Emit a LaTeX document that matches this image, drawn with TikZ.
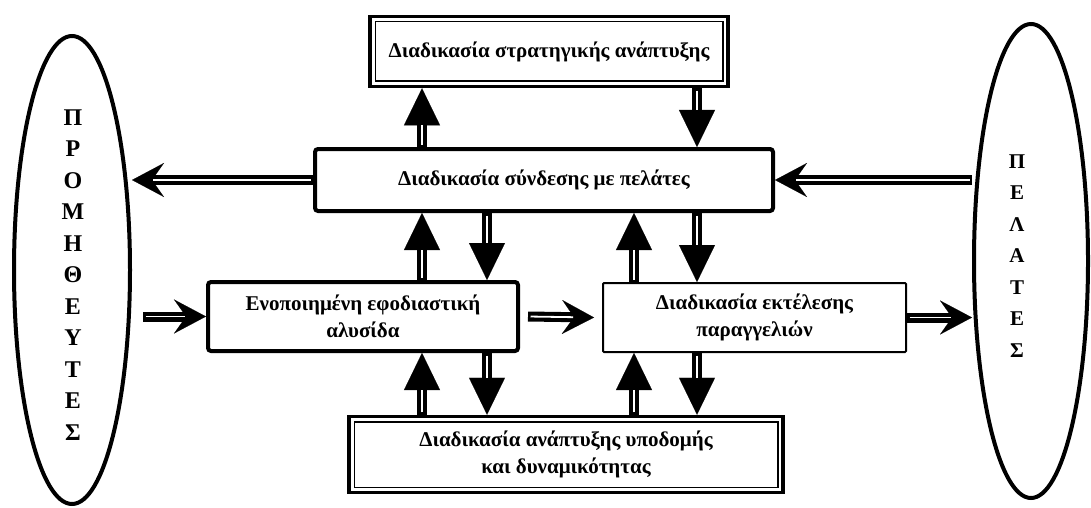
\documentclass[tikz,border=0pt]{standalone}
\usepackage{fontspec}
\setmainfont{Liberation Serif}
\usetikzlibrary{arrows.meta,shapes.geometric,calc}

\tikzset{
  box/.style={draw, line width=4pt, rounded corners=3pt, align=center, inner sep=0pt,
    font=\bfseries\fontsize{21}{27}\selectfont},
  thinbox/.style={box, line width=2pt, rounded corners=1pt},
  framebox/.style={box, line width=3.5pt, rounded corners=0pt},
  inframe/.style={line width=1.5pt},
  oval/.style={draw, ellipse, line width=4pt, inner sep=0pt},
  letters/.style={align=center, inner sep=0pt, font=\bfseries\fontsize{#1}{31.5}\selectfont},
  vshaft/.style={line width=10pt, -{Triangle[length=37pt,width=36pt,line width=0.1pt]}},
  vgap/.style={white, line width=1.8pt, shorten <=2.5pt, shorten >=37pt},
  hshaft/.style={line width=10pt, -{Stealth[length=32pt,width=34pt,inset=12pt,line width=0.1pt]}},
  hgap/.style={white, line width=1.8pt, shorten <=2.5pt, shorten >=21pt},
}

% double-line connector with a solid triangular head (vertical flows)
\newcommand\vduct[2]{\draw[vshaft] (#1) -- (#2); \draw[vgap] (#1) -- (#2);}
% double-line connector with a swept-back head (horizontal flows)
\newcommand\hduct[2]{\draw[hshaft] (#1) -- (#2); \draw[hgap] (#1) -- (#2);}

\begin{document}
\begin{tikzpicture}[x=1pt, y=-1pt]
  \useasboundingbox (0,0) rectangle (1091,508);

  % suppliers and customers
  \node[oval, minimum width=116pt, minimum height=468pt] (sup) at (72,270) {};
  \node[letters=24] (supt) at (73,275) {Π\\Ρ\\Ο\\Μ\\Η\\Θ\\Ε\\Υ\\Τ\\Ε\\Σ};
  \node[oval, minimum width=114pt, minimum height=474pt] (cus) at (1031,261) {};
  \node[letters=21] (cust) at (1017,256) {Π\\Ε\\Λ\\Α\\Τ\\Ε\\Σ};

  % processes
  \node[framebox, minimum width=358pt, minimum height=70pt] (b1) at (549,51.5)
    {Διαδικασία στρατηγικής ανάπτυξης};
  \draw[inframe] ($(b1.north west)+(7,7)$) rectangle ($(b1.south east)+(-7,-7)$);
  \node[box, minimum width=458pt, minimum height=62pt] (b2) at (544,180)
    {Διαδικασία σύνδεσης με πελάτες};
  \node[box, minimum width=310pt, minimum height=69pt] (b3) at (363,316.5)
    {Ενοποιημένη εφοδιαστική\\αλυσίδα};
  \node[thinbox, minimum width=303pt, minimum height=69pt] (b4) at (754.5,317.5)
    {Διαδικασία εκτέλεσης\\παραγγελιών};
  \node[framebox, minimum width=434pt, minimum height=76pt] (b5) at (566,454.5)
    {Διαδικασία ανάπτυξης υποδομής\\και δυναμικότητας};
  \draw[inframe] ($(b5.north west)+(7,7)$) rectangle ($(b5.south east)+(-7,-7)$);

  % columns of the vertical flows
  \coordinate (cA) at (422,0);
  \coordinate (cB) at (487,0);
  \coordinate (cC) at (634,0);
  \coordinate (cD) at (697,0);

  % vertical flows
  \vduct{b2.north -| cA}{b1.south -| cA}
  \vduct{b1.south -| cD}{b2.north -| cD}
  \vduct{b3.north -| cA}{b2.south -| cA}
  \vduct{b2.south -| cB}{b3.north -| cB}
  \vduct{b4.north -| cC}{b2.south -| cC}
  \vduct{b2.south -| cD}{b4.north -| cD}
  \vduct{b5.north -| cA}{b3.south -| cA}
  \vduct{b3.south -| cB}{b5.north -| cB}
  \vduct{b5.north -| cC}{b4.south -| cC}
  \vduct{b4.south -| cD}{b5.north -| cD}

  % horizontal flows
  \coordinate (s1) at ($(sup.east |- b3.west)+(11,0)$);
  \coordinate (s2) at ($(b3.east)+(8,0)$);
  \coordinate (s3) at ($(b4.west)+(-8,0)$);
  \hduct{b2.west}{sup.east |- b2.west}
  \hduct{cus.west |- b2.east}{b2.east}
  \hduct{s1}{b3.west}
  \hduct{s2}{s3}
  \hduct{b4.east}{cus.west |- b4.east}
\end{tikzpicture}
\end{document}
